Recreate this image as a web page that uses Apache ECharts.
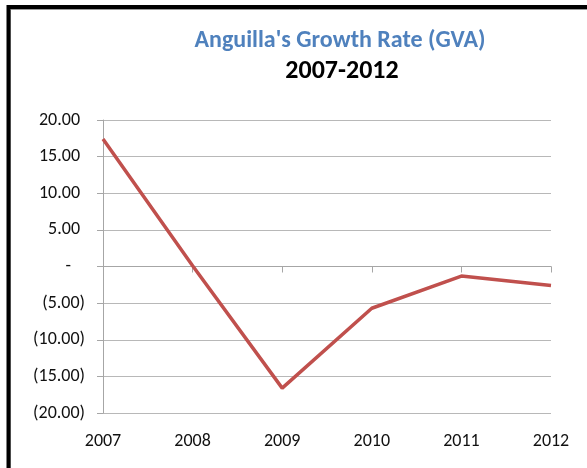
<!DOCTYPE html>
<html>
<head>
<meta charset="utf-8">
<script src="https://cdn.jsdelivr.net/npm/echarts@6/dist/echarts.min.js"></script>
<style>html,body{margin:0;padding:0;background:#fff}#c{width:587px;height:468px}</style>
</head>
<body>
<div id="c"></div>
<script>
var years = ['2007', '2008', '2009', '2010', '2011', '2012'];
var growthRate = [17.4, 0.1, -16.6, -5.7, -1.3, -2.6];
var yTicks = [-20, -15, -10, -5, 0, 5, 10, 15, 20];
var titleText = "Anguilla's Growth Rate (GVA)";
var subtitleText = '2007-2012';

var FONT = "Carlito, Calibri, 'Liberation Sans', sans-serif";

function fmtY(v) {
  if (Math.abs(v) < 1e-9) return '{z|-}';
  if (v < 0) return '{n|(' + Math.abs(v).toFixed(2) + ')}';
  return '{p|' + v.toFixed(2) + '}';
}

var chart = echarts.init(document.getElementById('c'), null, {renderer: 'canvas'});
chart.setOption({
  animation: false,
  backgroundColor: '#fff',
  graphic: [
    {type: 'rect', shape: {x: 8.5, y: 7, width: 700, height: 600},
     style: {fill: null, stroke: '#000', lineWidth: 4}, z: 100},
    {type: 'rect', shape: {x: 10.5, y: 9.5, width: 700, height: 600},
     style: {fill: null, stroke: '#999', lineWidth: 1}, z: 99}
  ],
  title: [
    {text: titleText, left: 335, top: 24, textAlign: 'center',
     textStyle: {color: '#4F81BD', fontFamily: FONT, fontSize: 24, fontWeight: 'bold'}},
    {text: subtitleText, left: 337, top: 53, textAlign: 'center',
     textStyle: {color: '#000', fontFamily: FONT, fontSize: 26, fontWeight: 'bold'}}
  ],
  grid: {left: 103, right: 36, top: 120, bottom: 55, containLabel: false},
  xAxis: [
    {type: 'category', data: years, boundaryGap: false,
     axisLine: {onZero: true, lineStyle: {color: '#A6A6A6', width: 1}},
     axisTick: {show: true, length: 6, inside: false, alignWithLabel: true, lineStyle: {color: '#A6A6A6'}},
     axisLabel: {show: false}, splitLine: {show: false}},
    {type: 'category', data: years, boundaryGap: false, position: 'bottom',
     axisLine: {show: false}, axisTick: {show: false},
     axisLabel: {show: true, margin: 19, color: '#111', fontFamily: FONT, fontSize: 18},
     splitLine: {show: false}}
  ],
  yAxis: {
    type: 'value', min: yTicks[0], max: yTicks[yTicks.length - 1], interval: 5,
    axisLine: {show: true, onZero: false, lineStyle: {color: '#A6A6A6', width: 1}},
    axisTick: {show: true, length: 6, lineStyle: {color: '#A6A6A6'}},
    splitLine: {show: true, lineStyle: {color: '#B8B8B8', width: 1}},
    axisLabel: {
      margin: 18, color: '#111', fontFamily: FONT, fontSize: 18, formatter: fmtY,
      rich: {
        p: {fontFamily: FONT, fontSize: 18, color: '#111', padding: [0, 5, 0, 0]},
        n: {fontFamily: FONT, fontSize: 18, color: '#111'},
        z: {fontFamily: FONT, fontSize: 18, color: '#111', padding: [0, 14, 0, 0]}
      }
    }
  },
  series: [{
    type: 'line', data: growthRate, xAxisIndex: 0, symbol: 'none',
    lineStyle: {color: '#C0504D', width: 3.5}, z: 5
  }]
});
</script>
</body>
</html>
